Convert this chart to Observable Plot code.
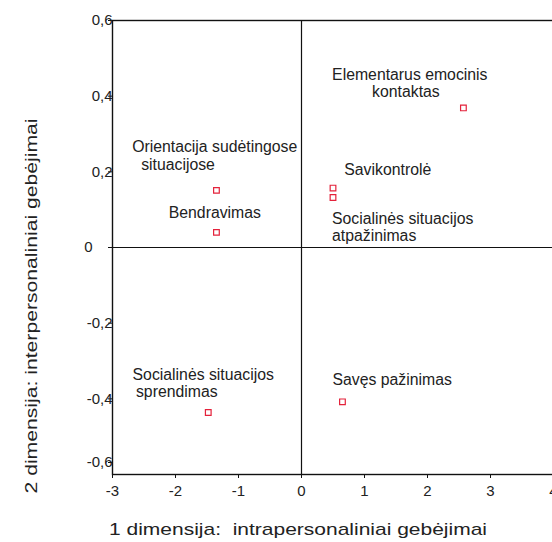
<!DOCTYPE html>
<html><head><meta charset="utf-8">
<script src="https://cdn.jsdelivr.net/npm/d3@7"></script>
<script src="https://cdn.jsdelivr.net/npm/@observablehq/plot@0.6"></script>
<style>html,body{margin:0;padding:0;background:#fff;overflow:hidden}</style>
</head><body><div id="chart"></div>
<script>
// ---- data ----
const names = [
  "Elementarus emocinis kontaktas",
  "Savikontrolė",
  "Socialinės situacijos atpažinimas",
  "Orientacija sudėtingose situacijose",
  "Bendravimas",
  "Socialinės situacijos sprendimas",
  "Savęs pažinimas"
];
const labelLines = [
  ["Elementarus emocinis", "kontaktas"],
  ["Savikontrolė"],
  ["Socialinės situacijos", "atpažinimas"],
  ["Orientacija sudėtingose", "situacijose"],
  ["Bendravimas"],
  ["Socialinės situacijos", "sprendimas"],
  ["Savęs pažinimas"]
];
const dim1 = [2.57, 0.50, 0.50, -1.35, -1.35, -1.48, 0.65];
const dim2 = [0.369, 0.157, 0.132, 0.151, 0.040, -0.436, -0.408];
const xTicks = [-3, -2, -1, 0, 1, 2, 3, 4];
const yTicks = [0.6, 0.4, 0.2, -0.2, -0.4];
const yZeroTick = [0];
const yBottomTick = [-0.6];
const xTitle = "1 dimensija:  intrapersonaliniai gebėjimai";
const yTitle = "2 dimensija: interpersonaliniai gebėjimai";

// ---- styling (label offsets in px, per line) ----
const labelOffsets = [
  [[-131.3, -28], [-91.3, -10.6]],
  [[11.3, -12.7]],
  [[-1, 26.3], [-1, 43]],
  [[-84.3, -38.3], [-75.3, -20.7]],
  [[-47.7, -14]],
  [[-75.7, -32.7], [-72.3, -15.3]],
  [[-10, -17]]
];

const rows = names.map((n, i) => ({name: n, x: dim1[i], y: dim2[i]}));
const fmtY = d => d === 0 ? "0" : d.toFixed(1).replace(".", ",");
const ink = "#111";
const txt = "#222";

const labelMarks = [];
rows.forEach((r, i) => {
  labelLines[i].forEach((line, j) => {
    const [dx, dy] = labelOffsets[i][j];
    labelMarks.push(Plot.text([r], {
      x: "x", y: "y", text: () => line, dx, dy,
      textAnchor: "start", lineAnchor: "bottom",
      fontSize: 15.8, fill: txt
    }));
  });
});

const chart = Plot.plot({
  width: 552,
  height: 542,
  marginLeft: 112,
  marginRight: -1,
  marginTop: 20,
  marginBottom: 68,
  style: {fontFamily: "'Liberation Sans', Arial, sans-serif", background: "#fff", color: txt},
  x: {domain: [-3, 4]},
  y: {domain: [-0.6, 0.6]},
  marks: [
    Plot.ruleX([0], {stroke: ink, strokeWidth: 1.2}),
    Plot.ruleY([0], {stroke: ink, strokeWidth: 1.2, insetLeft: -4}),
    Plot.frame({stroke: ink, strokeWidth: 1.4}),
    Plot.axisX({ticks: xTicks, tickFormat: d => String(d), tickSize: 4, tickPadding: 7,
      fontSize: 15, stroke: ink, fill: txt, label: null}),
    Plot.axisY({ticks: yTicks, tickFormat: fmtY, tickSize: 4, tickPadding: -4,
      fontSize: 15, stroke: ink, fill: txt, label: null}),
    Plot.axisY({ticks: yZeroTick, tickFormat: fmtY, tickSize: 0, tickPadding: 20,
      fontSize: 15, fill: txt, label: null}),
    Plot.axisY({ticks: yBottomTick, tickFormat: fmtY, tickSize: 4, tickPadding: -4, dy: -12,
      fontSize: 15, stroke: ink, fill: txt, label: null}),
    Plot.dot(rows, {x: "x", y: "y", symbol: "square", r: 3.2, stroke: "#e4223b", strokeWidth: 1.2, fill: "white"}),
    ...labelMarks,
    Plot.text([xTitle], {frameAnchor: "bottom", dx: -35, dy: 60, textAnchor: "middle", lineAnchor: "bottom",
      fontSize: 17, fill: txt}),
    Plot.text([yTitle], {frameAnchor: "left", rotate: -90, dx: -76, dy: 58.5, textAnchor: "middle", lineAnchor: "bottom",
      fontSize: 17, fill: txt})
  ]
});
document.getElementById("chart").appendChild(chart);

// stretch the axis titles to the reference lengths
chart.querySelectorAll("text").forEach(t => {
  if (t.textContent === xTitle) { t.setAttribute("textLength", 378); t.setAttribute("lengthAdjust", "spacingAndGlyphs"); }
  if (t.textContent === yTitle) { t.setAttribute("textLength", 375); t.setAttribute("lengthAdjust", "spacingAndGlyphs"); }
});
</script>
</body></html>
